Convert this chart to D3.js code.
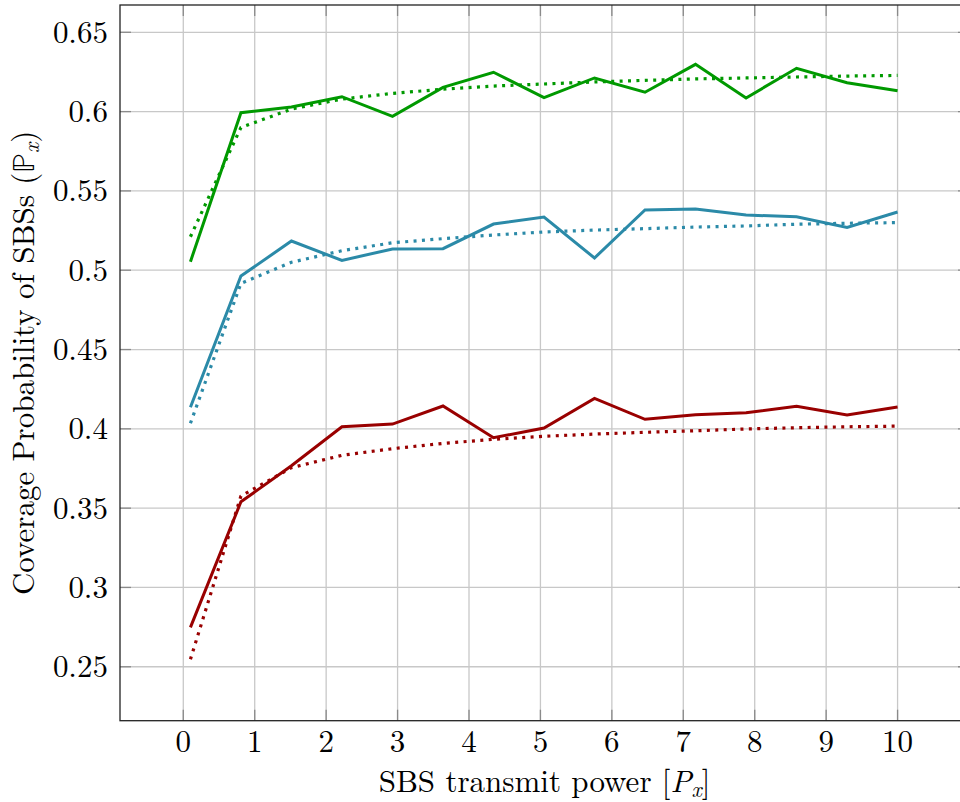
<!DOCTYPE html>
<html>
<head>
<meta charset="utf-8">
<script src="https://cdn.jsdelivr.net/npm/d3@7"></script>
<style>
  html, body { margin: 0; padding: 0; background: #fff; }
  svg { display: block; }
  text { font-family: "Latin Modern Roman", "Liberation Serif", serif; fill: #000; }
</style>
</head>
<body>
<svg id="chart" width="960" height="802"></svg>
<script>
// ---------- data ----------
const xValues = [0.1, 0.807, 1.514, 2.221, 2.929, 3.636, 4.343, 5.05, 5.757, 6.464, 7.171, 7.879, 8.586, 9.293, 10];

const greenSolid  = [0.5054, 0.5993, 0.6029, 0.6094, 0.5970, 0.6153, 0.6248, 0.6088, 0.6212, 0.6122, 0.6298, 0.6086, 0.6273, 0.6182, 0.6132];
const greenDotted = [0.5211, 0.5900, 0.6016, 0.6079, 0.6115, 0.6141, 0.6161, 0.6174, 0.6187, 0.6197, 0.6206, 0.6212, 0.6218, 0.6224, 0.6228];

const blueSolid   = [0.4136, 0.4963, 0.5184, 0.5062, 0.5134, 0.5136, 0.5291, 0.5335, 0.5077, 0.5380, 0.5386, 0.5348, 0.5337, 0.5270, 0.5367];
const blueDotted  = [0.4035, 0.4917, 0.5050, 0.5123, 0.5173, 0.5199, 0.5222, 0.5241, 0.5253, 0.5262, 0.5272, 0.5279, 0.5290, 0.5296, 0.5300];

const redSolid    = [0.2748, 0.3540, 0.3767, 0.4013, 0.4030, 0.4144, 0.3944, 0.4005, 0.4192, 0.4060, 0.4089, 0.4102, 0.4142, 0.4087, 0.4137];
const redDotted   = [0.2547, 0.3576, 0.3755, 0.3833, 0.3875, 0.3908, 0.3934, 0.3953, 0.3967, 0.3978, 0.3988, 0.3999, 0.4007, 0.4013, 0.4017];

const xTicks = [0, 1, 2, 3, 4, 5, 6, 7, 8, 9, 10];
const yTicks = [0.25, 0.3, 0.35, 0.4, 0.45, 0.5, 0.55, 0.6, 0.65];
const yTickLabels = ["0.25", "0.3", "0.35", "0.4", "0.45", "0.5", "0.55", "0.6", "0.65"];

const series = [
  { values: greenSolid,  color: "#009900", dotted: false },
  { values: greenDotted, color: "#009900", dotted: true },
  { values: blueSolid,   color: "#2b8aa8", dotted: false },
  { values: blueDotted,  color: "#2b8aa8", dotted: true },
  { values: redSolid,    color: "#990000", dotted: false },
  { values: redDotted,   color: "#990000", dotted: true }
];

// ---------- layout ----------
const pLeft = 120, pRight = 969, pTop = 5, pBottom = 720.7;
const x = d3.scaleLinear().domain([-0.886, 11.0]).range([pLeft, pRight]);
const y = d3.scaleLinear().domain([0.2160, 0.6672]).range([pBottom, pTop]);

const svg = d3.select("#chart");

// grid
const grid = svg.append("g");
grid.selectAll("line.gx").data(xTicks).join("line")
  .attr("x1", d => x(d)).attr("x2", d => x(d))
  .attr("y1", pTop).attr("y2", pBottom)
  .attr("stroke", "#c8c8c8").attr("stroke-width", 1.3);
grid.selectAll("line.gy").data(yTicks).join("line")
  .attr("x1", pLeft).attr("x2", pRight)
  .attr("y1", d => y(d)).attr("y2", d => y(d))
  .attr("stroke", "#c8c8c8").attr("stroke-width", 1.3);

// tick marks (inside, on all four sides)
const tickLen = 11;
const ticks = svg.append("g").attr("stroke", "#8a8a8a").attr("stroke-width", 1.3);
xTicks.forEach(d => {
  ticks.append("line").attr("x1", x(d)).attr("x2", x(d)).attr("y1", pBottom).attr("y2", pBottom - tickLen);
  ticks.append("line").attr("x1", x(d)).attr("x2", x(d)).attr("y1", pTop).attr("y2", pTop + tickLen);
});
yTicks.forEach(d => {
  ticks.append("line").attr("x1", pLeft).attr("x2", pLeft + tickLen).attr("y1", y(d)).attr("y2", y(d));
  ticks.append("line").attr("x1", pRight).attr("x2", pRight - tickLen).attr("y1", y(d)).attr("y2", y(d));
});

// lines
const line = d3.line().x((d, i) => x(xValues[i])).y(d => y(d));
series.forEach(s => {
  svg.append("path")
    .datum(s.values)
    .attr("d", line)
    .attr("fill", "none")
    .attr("stroke", s.color)
    .attr("stroke-width", s.dotted ? 3.2 : 3)
    .attr("stroke-linejoin", "miter")
    .attr("stroke-dasharray", s.dotted ? "3 5.4" : null);
});

// frame
svg.append("rect")
  .attr("x", pLeft).attr("y", pTop)
  .attr("width", pRight - pLeft).attr("height", pBottom - pTop)
  .attr("fill", "none").attr("stroke", "#222").attr("stroke-width", 1.3);

// tick labels
const fs = 31;
svg.append("g").selectAll("text").data(xTicks).join("text")
  .attr("x", d => x(d)).attr("y", 752)
  .attr("text-anchor", "middle")
  .attr("font-size", fs)
  .text(d => d);

svg.append("g").selectAll("text").data(yTicks).join("text")
  .attr("x", 108).attr("y", d => y(d) + 10.5)
  .attr("text-anchor", "end")
  .attr("font-size", fs)
  .text((d, i) => yTickLabels[i]);

// x label
const xl = svg.append("text")
  .attr("x", (pLeft + pRight) / 2).attr("y", 792)
  .attr("text-anchor", "middle")
  .attr("font-size", fs);
xl.append("tspan").text("SBS transmit power [");
xl.append("tspan").attr("font-style", "italic").text("P");
xl.append("tspan").attr("font-style", "italic").attr("font-size", 22).attr("dy", 5).text("x");
xl.append("tspan").attr("dy", -5).text("]");

// y label
const yl = svg.append("text")
  .attr("transform", `translate(34, ${(pTop + pBottom) / 2}) rotate(-90)`)
  .attr("text-anchor", "middle")
  .attr("font-size", fs);
yl.append("tspan").text("Coverage Probability of SBSs (");
yl.append("tspan").style("font-family", "\"Latin Modern Math\", \"DejaVu Serif\", serif").text("ℙ");
yl.append("tspan").attr("font-style", "italic").attr("font-size", 22).attr("dy", 5).text("x");
yl.append("tspan").attr("dy", -5).text(")");
</script>
</body>
</html>
